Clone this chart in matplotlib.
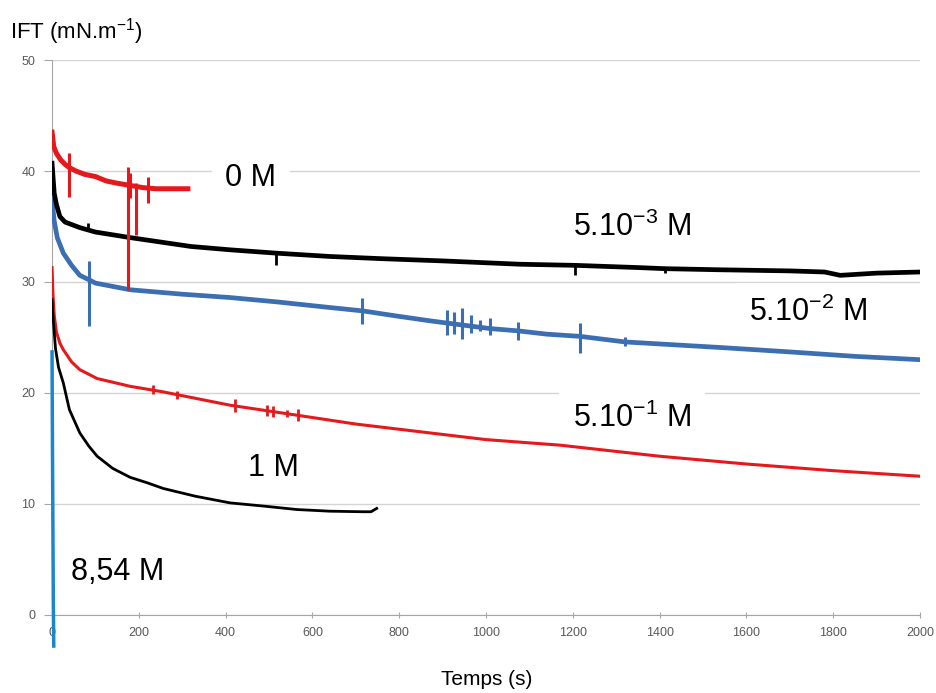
import matplotlib
matplotlib.use("Agg")
import matplotlib.pyplot as plt

# IFT vs time for several concentrations

plt.rcParams['font.family'] = ['Liberation Sans', 'DejaVu Sans']
plt.rcParams['mathtext.fontset'] = 'custom'
plt.rcParams['mathtext.rm'] = 'Liberation Sans'
plt.rcParams['mathtext.it'] = 'Liberation Sans'

# 0 M
t_0M = [0, 4, 10, 20, 30, 40, 55, 75, 100, 125, 150, 165, 180, 210, 240, 260, 290, 313]
v_0M = [43.5, 42.2, 41.6, 41.0, 40.6, 40.3, 40.0, 39.7, 39.5, 39.1, 38.9, 38.8, 38.7, 38.5, 38.4, 38.4,
        38.4, 38.4]
spk_0M_t = [40, 176, 180, 194, 221]
spk_0M_lo = [37.7, 29.3, 37.6, 34.2, 37.1]
spk_0M_hi = [41.6, 40.4, 39.8, 38.9, 39.5]

# 5.10-3 M
t_5e3 = [0, 5, 10, 18, 30, 64, 100, 180, 250, 320, 410, 516, 640, 760, 900, 1078, 1205, 1350, 1412,
         1539, 1700, 1780, 1816, 1900, 2000]
v_5e3 = [40.7, 38.0, 37.0, 35.9, 35.4, 34.9, 34.5, 34.0, 33.6, 33.2, 32.9, 32.6, 32.3, 32.1, 31.9, 31.6,
         31.5, 31.3, 31.2, 31.1, 31.0, 30.9, 30.6, 30.8, 30.9]
spk_5e3_t = [83, 516, 1205, 1412]
spk_5e3_lo = [34.6, 31.5, 30.6, 30.8]
spk_5e3_hi = [35.3, 32.7, 31.7, 31.3]

# 5.10-2 M
t_5e2 = [0, 5, 12, 26, 45, 64, 85, 100, 140, 180, 300, 410, 520, 640, 715, 800, 871, 910, 1010, 1073,
         1140, 1217, 1320, 1539, 1700, 1850, 2000]
v_5e2 = [37.4, 35.5, 34.0, 32.6, 31.5, 30.6, 30.2, 29.9, 29.6, 29.3, 28.9, 28.6, 28.2, 27.7, 27.4, 26.9,
         26.5, 26.3, 25.8, 25.6, 25.3, 25.1, 24.6, 24.1, 23.7, 23.3, 23.0]
spk_5e2_t = [85, 715, 910, 925, 945, 965, 985, 1010, 1073, 1217, 1320]
spk_5e2_lo = [26.0, 26.2, 25.2, 25.3, 24.9, 25.4, 25.6, 25.2, 24.8, 23.6, 24.2]
spk_5e2_hi = [31.9, 28.6, 27.5, 27.3, 27.7, 27.0, 26.6, 26.8, 26.4, 26.3, 25.0]

# 5.10-1 M
t_5e1 = [0, 2, 5, 10, 18, 26, 45, 64, 104, 180, 256, 410, 564, 700, 871, 1000, 1170, 1400, 1600, 1800,
         2000]
v_5e1 = [31.3, 29.0, 27.0, 25.5, 24.5, 23.9, 22.8, 22.1, 21.3, 20.6, 20.1, 18.9, 18.0, 17.2, 16.4, 15.8,
         15.3, 14.3, 13.6, 13.0, 12.5]
spk_5e1_t = [233, 289, 422, 496, 510, 542, 567]
spk_5e1_lo = [19.9, 19.5, 18.3, 17.9, 17.8, 17.8, 17.5]
spk_5e1_hi = [20.7, 20.2, 19.5, 18.9, 18.8, 18.5, 18.6]

# 1 M
t_1M = [0, 3, 8, 15, 26, 40, 64, 85, 104, 140, 180, 220, 256, 330, 410, 490, 564, 640, 717, 735, 748]
v_1M = [28.4, 26.5, 24.0, 22.3, 20.9, 18.5, 16.4, 15.2, 14.3, 13.2, 12.4, 11.9, 11.4, 10.7, 10.1, 9.8,
        9.5, 9.35, 9.3, 9.3, 9.6]

# 8,54 M
t_854 = [0, 1, 3, 4]
v_854 = [23.7, 15.0, 1.0, -2.8]

red = '#e5191b'
blue = '#3b6fb2'
cyan = '#1c86cc'

fig = plt.figure(figsize=(9.36, 6.93), dpi=100)
ax = fig.add_axes([0.0556, 0.1126, 0.9274, 0.8008])

ax.plot(t_5e2, v_5e2, color=blue, lw=3.4, zorder=3)
ax.vlines(spk_5e2_t, spk_5e2_lo, spk_5e2_hi, color=blue, lw=2.2, zorder=3)
ax.plot(t_5e3, v_5e3, color='black', lw=3.4, zorder=3)
ax.vlines(spk_5e3_t, spk_5e3_lo, spk_5e3_hi, color='black', lw=2.0, zorder=3)
ax.plot(t_0M, v_0M, color=red, lw=3.6, zorder=4)
ax.vlines(spk_0M_t, spk_0M_lo, spk_0M_hi, color=red, lw=2.2, zorder=4)
ax.plot(t_5e1, v_5e1, color=red, lw=2.2, zorder=3)
ax.vlines(spk_5e1_t, spk_5e1_lo, spk_5e1_hi, color=red, lw=2.0, zorder=3)
ax.plot(t_1M, v_1M, color='black', lw=2.0, zorder=3)
ax.plot(t_854, v_854, color=cyan, lw=2.5, zorder=3, clip_on=False)

ax.set_xlim(0, 2000)
ax.set_ylim(0, 50)
ax.set_xticks(range(0, 2001, 200))
ax.set_yticks(range(0, 51, 10))
ax.yaxis.grid(True, color='#d4d4d4', lw=1)
ax.set_axisbelow(True)
for s in ['top', 'right']:
    ax.spines[s].set_visible(False)
for s in ['left', 'bottom']:
    ax.spines[s].set_color('#a6a6a6')
ax.tick_params(axis='both', colors='#a6a6a6', labelcolor='#595959', labelsize=9)
ax.tick_params(axis='x', direction='inout', length=5, pad=6)
ax.tick_params(axis='y', length=6, pad=6)

fig.text(0.011, 0.955, 'IFT (mN.m$^{-1}$)', fontsize=16, ha='left', va='center')
fig.text(0.52, 0.02, 'Temps (s)', fontsize=15, ha='center', va='center')

box = dict(boxstyle='square,pad=0.45', fc='white', ec='none')
labels = ['0 M', '5.10$^{-3}$ M', '5.10$^{-2}$ M', '5.10$^{-1}$ M', '1 M', '8,54 M']
lab_t = [458, 1336, 1742, 1336, 509, 152]
lab_v = [39.4, 34.9, 27.3, 17.7, 13.2, 3.9]
for s, x, y in zip(labels, lab_t, lab_v):
    ax.text(x, y, s, fontsize=22, ha='center', va='center', bbox=box, zorder=2)

fig.savefig('out.png', dpi=100)
